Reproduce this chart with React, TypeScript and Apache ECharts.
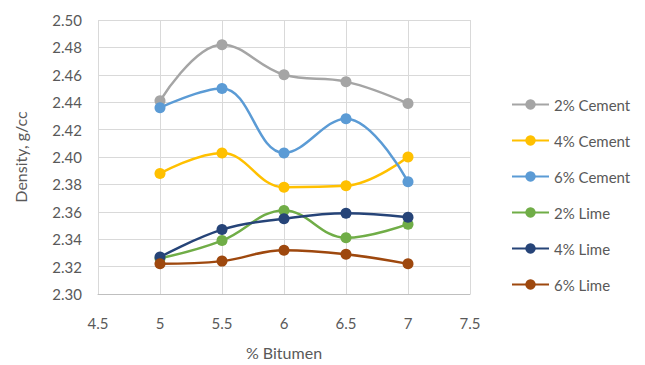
import React, { useEffect, useRef } from "react";
import * as echarts from "echarts";

const bitumen = [5, 5.5, 6, 6.5, 7];
const cement2 = [2.441, 2.482, 2.46, 2.455, 2.439];
const cement4 = [2.388, 2.403, 2.378, 2.379, 2.4];
const cement6 = [2.436, 2.45, 2.403, 2.428, 2.382];
const lime2 = [2.326, 2.339, 2.361, 2.341, 2.351];
const lime4 = [2.327, 2.347, 2.355, 2.359, 2.356];
const lime6 = [2.322, 2.324, 2.332, 2.329, 2.322];

const seriesNames = ["2% Cement", "4% Cement", "6% Cement", "2% Lime", "4% Lime", "6% Lime"];
const seriesValues = [cement2, cement4, cement6, lime2, lime4, lime6];
const seriesColors = ["#A5A5A5", "#FFC000", "#5B9BD5", "#70AD47", "#264478", "#9E480E"];

const FONT = "Lato, 'Open Sans', sans-serif";
const TEXT = "#595959";

export default function App() {
  const ref = useRef<HTMLDivElement>(null);

  useEffect(() => {
    document.body.style.margin = "0";
    const chart = echarts.init(ref.current!, null, { renderer: "svg" });
    chart.setOption({
      animation: false,
      backgroundColor: "#ffffff",
      textStyle: { fontFamily: FONT },
      grid: { left: 98, top: 20, right: 175, bottom: 68 },
      legend: {
        orient: "vertical",
        left: 506,
        top: 92,
        itemWidth: 37,
        itemHeight: 13,
        itemGap: 21,
        data: seriesNames,
        textStyle: { color: TEXT, fontSize: 15, fontFamily: FONT },
      },
      xAxis: {
        type: "value",
        min: 4.5,
        max: 7.5,
        interval: 0.5,
        name: "% Bitumen",
        nameLocation: "middle",
        nameGap: 50,
        nameTextStyle: { color: TEXT, fontSize: 16, fontFamily: FONT },
        axisLine: { show: true, lineStyle: { color: "#BFBFBF" } },
        axisTick: { show: false },
        axisLabel: { color: TEXT, fontSize: 15, margin: 21, fontFamily: FONT },
        splitLine: { show: true, lineStyle: { color: "#D9D9D9" } },
      },
      yAxis: {
        type: "value",
        min: 2.3,
        max: 2.5,
        interval: 0.02,
        name: "Density, g/cc",
        nameLocation: "middle",
        nameGap: 70,
        nameTextStyle: { color: TEXT, fontSize: 16, fontFamily: FONT },
        axisLine: { show: false },
        axisTick: { show: false },
        axisLabel: {
          color: TEXT,
          fontSize: 15,
          margin: 16,
          fontFamily: FONT,
          formatter: (v: number) => v.toFixed(2),
        },
        splitLine: { show: true, lineStyle: { color: "#D9D9D9" } },
      },
      series: seriesNames.map((name, i) => ({
        name,
        type: "line",
        smooth: 0.4,
        symbol: "circle",
        symbolSize: 11,
        color: seriesColors[i],
        lineStyle: { width: 2.5, color: seriesColors[i] },
        itemStyle: { color: seriesColors[i] },
        data: bitumen.map((x, j) => [x, seriesValues[i][j]]),
      })),
    });
    return () => chart.dispose();
  }, []);

  return <div ref={ref} style={{ width: 645, height: 365 }} />;
}
